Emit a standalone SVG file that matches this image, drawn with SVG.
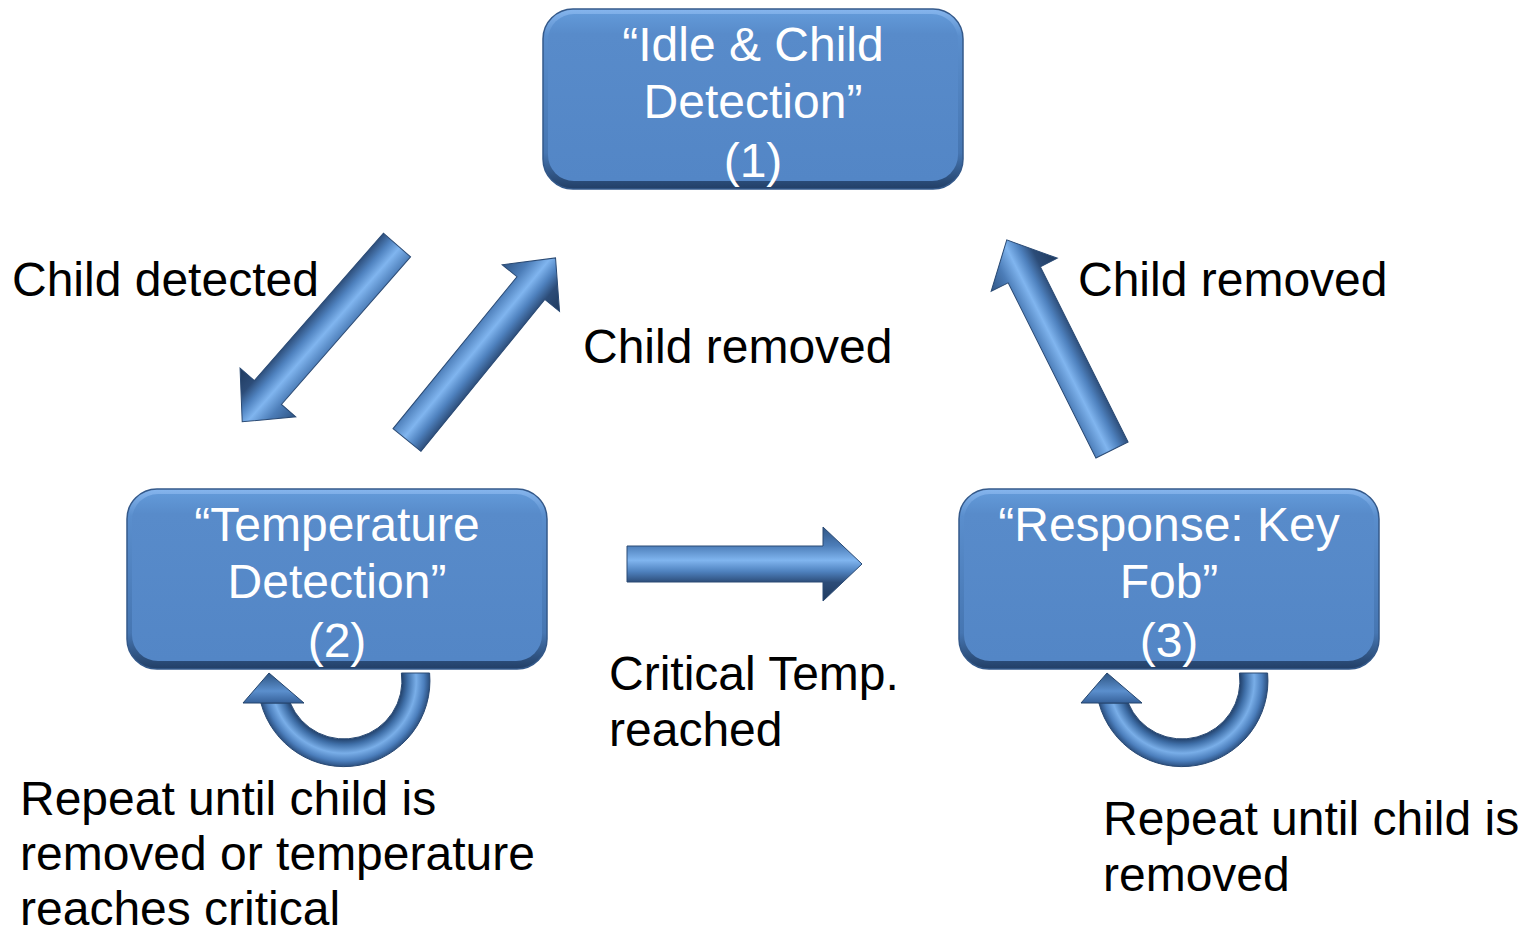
<svg xmlns="http://www.w3.org/2000/svg" width="1532" height="934" viewBox="0 0 1532 934">
<defs>
<linearGradient id="boxEdge" x1="0" y1="0" x2="0" y2="1">
<stop offset="0" stop-color="#86b6ee"/>
<stop offset="0.15" stop-color="#5a8ecd"/>
<stop offset="0.8" stop-color="#4676b2"/>
<stop offset="1" stop-color="#223f66"/>
</linearGradient>
<linearGradient id="boxFill" x1="0" y1="0" x2="0" y2="1">
<stop offset="0" stop-color="#6299d8"/>
<stop offset="0.12" stop-color="#588bca"/>
<stop offset="1" stop-color="#5386c6"/>
</linearGradient>
<linearGradient id="shaft" gradientUnits="userSpaceOnUse" x1="0" y1="-37" x2="0" y2="37">
<stop offset="0" stop-color="#2f5585"/>
<stop offset="0.25" stop-color="#4c7db8"/>
<stop offset="0.45" stop-color="#80b5ef"/>
<stop offset="0.6" stop-color="#4f82bf"/>
<stop offset="0.75" stop-color="#2c4c78"/>
<stop offset="1" stop-color="#1f3a5e"/>
</linearGradient>
<radialGradient id="ring" gradientUnits="userSpaceOnUse" cx="0" cy="0" r="86">
<stop offset="0.67" stop-color="#21406a"/>
<stop offset="0.74" stop-color="#3f6fa8"/>
<stop offset="0.84" stop-color="#79aee8"/>
<stop offset="0.93" stop-color="#4c7fbd"/>
<stop offset="1" stop-color="#2a4d7c"/>
</radialGradient>
<linearGradient id="head" x1="0" y1="0" x2="0" y2="1">
<stop offset="0" stop-color="#2d5482"/>
<stop offset="0.6" stop-color="#5b8fcd"/>
<stop offset="1" stop-color="#36619a"/>
</linearGradient>
<polygon id="straightArrow" points="0,-18 196,-18 196,-37 235,0 196,37 196,18 0,18"/>
</defs>
<style>
.lbl{font-family:"Liberation Sans",Arial,sans-serif;font-size:48px;fill:#000}
.btxt{font-family:"Liberation Sans",Arial,sans-serif;font-size:48px;fill:#fff;text-anchor:middle}
.arr{fill:url(#shaft);stroke:#2a4a74;stroke-width:1}
.ring{fill:url(#ring);stroke:#2a4a74;stroke-width:1}
.rhead{fill:url(#head);stroke:#24446c;stroke-width:1}
.edge{fill:url(#boxEdge);stroke:#34598a;stroke-width:1.5}
.face{fill:url(#boxFill)}
</style>

<g id="node1">
<rect class="edge" x="543" y="9" width="420" height="180" rx="30"/>
<rect class="face" x="548" y="14" width="410" height="167" rx="26"/>
<text class="btxt" x="753" y="61">“Idle &amp; Child</text>
<text class="btxt" x="753" y="118">Detection”</text>
<text class="btxt" x="753" y="177">(1)</text>
</g>

<g id="node2">
<rect class="edge" x="127" y="489" width="420" height="180" rx="30"/>
<rect class="face" x="132" y="494" width="410" height="167" rx="26"/>
<text class="btxt" x="337" y="541">“Temperature</text>
<text class="btxt" x="337" y="598">Detection”</text>
<text class="btxt" x="337" y="657">(2)</text>
</g>

<g id="node3">
<rect class="edge" x="959" y="489" width="420" height="180" rx="30"/>
<rect class="face" x="964" y="494" width="410" height="167" rx="26"/>
<text class="btxt" x="1169" y="541">“Response: Key</text>
<text class="btxt" x="1169" y="598">Fob”</text>
<text class="btxt" x="1169" y="657">(3)</text>
</g>

<g id="connectors">
<use href="#straightArrow" class="arr" transform="translate(397,245) rotate(131.2)"/>
<use href="#straightArrow" class="arr" transform="translate(407,440) rotate(-50.8)"/>
<use href="#straightArrow" class="arr" transform="translate(1112,450) rotate(-116.6)"/>
<use href="#straightArrow" class="arr" transform="translate(627,564)"/>
<g transform="translate(344,681)">
<path class="ring" d="M85.6,-8 A86,86 0 0 1 -83.1,22 L-53.7,22 A58,58 0 0 0 57.4,-8 Z"/>
<polygon class="rhead" points="-101,22 -40,22 -75,-8"/>
</g>
<g transform="translate(1182,681)">
<path class="ring" d="M85.6,-8 A86,86 0 0 1 -83.1,22 L-53.7,22 A58,58 0 0 0 57.4,-8 Z"/>
<polygon class="rhead" points="-101,22 -40,22 -75,-8"/>
</g>
</g>

<g id="labels">
<text class="lbl" x="12" y="296">Child detected</text>
<text class="lbl" x="583" y="363">Child removed</text>
<text class="lbl" x="1078" y="296">Child removed</text>
<text class="lbl" x="609" y="690">Critical Temp.</text>
<text class="lbl" x="609" y="746">reached</text>
<text class="lbl" x="20" y="815">Repeat until child is</text>
<text class="lbl" x="20" y="870">removed or temperature</text>
<text class="lbl" x="20" y="925">reaches critical</text>
<text class="lbl" x="1103" y="835">Repeat until child is</text>
<text class="lbl" x="1103" y="891">removed</text>
</g>
</svg>
